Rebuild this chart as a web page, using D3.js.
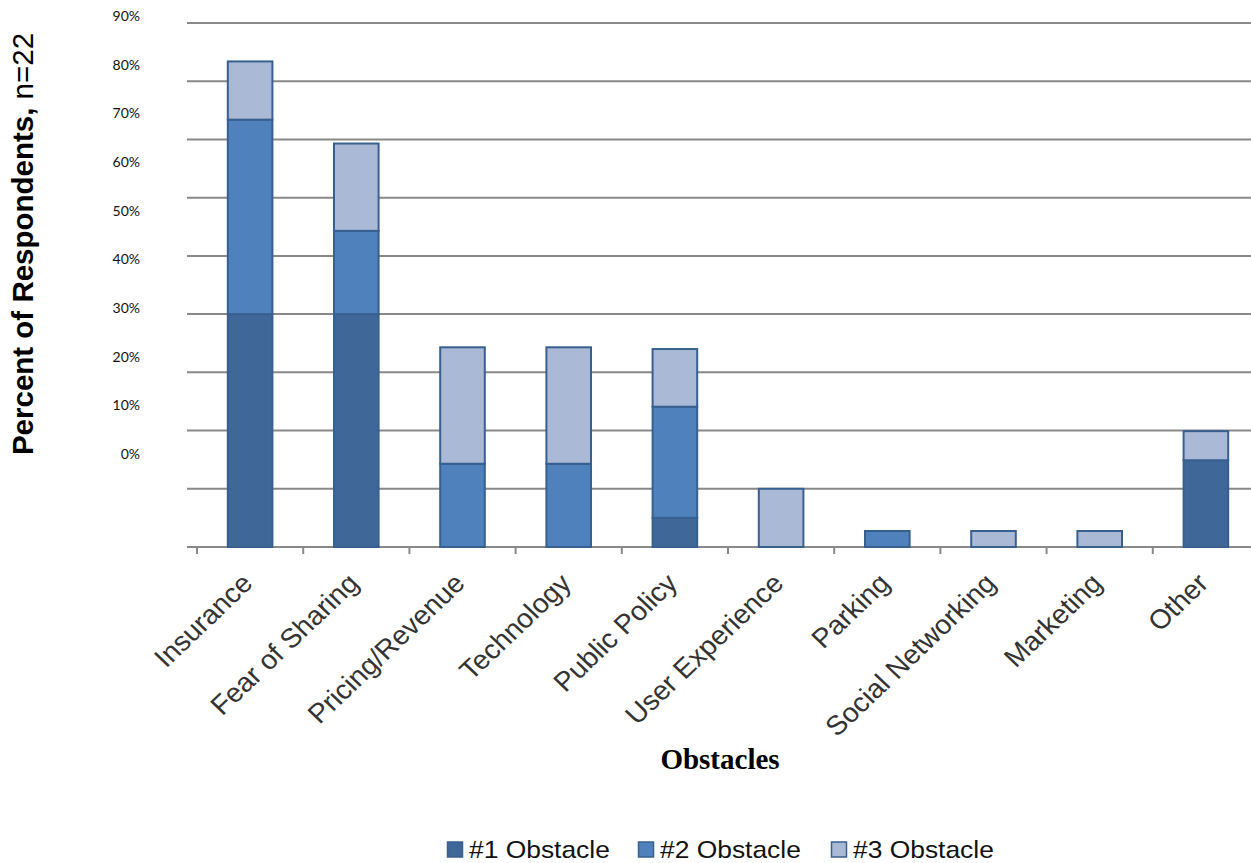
<!DOCTYPE html>
<html><head><meta charset="utf-8">
<script src="https://cdn.jsdelivr.net/npm/d3@7/dist/d3.min.js"></script>
<style>
body{margin:0;background:#fff;}
svg{display:block;}
</style></head>
<body>
<svg id="chart" width="1251" height="863"></svg>
<script>
const categories = ["Insurance","Fear of Sharing","Pricing/Revenue","Technology","Public Policy","User Experience","Parking","Social Networking","Marketing","Other"];
const obstacle1 = [40, 40, 0, 0, 5, 0, 0, 0, 0, 14.9];
const obstacle2 = [33.4, 14.3, 14.3, 14.3, 19.1, 0, 2.75, 0, 0, 0];
const obstacle3 = [10, 15, 20, 20, 9.9, 10, 0, 2.75, 2.75, 5];
const seriesNames = ["#1 Obstacle","#2 Obstacle","#3 Obstacle"];
const tickLabels = [0,10,20,30,40,50,60,70,80,90];
const colors = ["#3F6898","#4F81BD","#AAB9D6"];
const strokeColor = "#38608F";

const svg = d3.select("#chart");
const x = d3.scaleBand().domain(categories).range([197, 1259]).paddingInner(0).paddingOuter(0);
const y = d3.scaleLinear().domain([0, 90]).range([547, 23]);
const yLab = d3.scaleLinear().domain([0, 90]).range([454, 16]);

// gridlines
svg.append("g").selectAll("line").data(tickLabels).join("line")
  .attr("x1", 187).attr("x2", 1251)
  .attr("y1", d => y(d)).attr("y2", d => y(d))
  .attr("stroke", "#898989").attr("stroke-width", 2);

// category ticks
const bounds = categories.map(c => x(c)).concat([x.range()[1]]);
svg.append("g").selectAll("line").data(bounds).join("line")
  .attr("x1", d => d).attr("x2", d => d)
  .attr("y1", 547).attr("y2", 554)
  .attr("stroke", "#898989").attr("stroke-width", 2);

// y tick labels (drawn at their own positions as in reference)
svg.append("g").selectAll("text").data(tickLabels).join("text")
  .attr("x", 140).attr("y", d => yLab(d)).attr("dy", "0.35em")
  .attr("text-anchor", "end")
  .style("font-family", "Lato, 'Open Sans', sans-serif").style("font-size", "14px").attr("fill", "#111")
  .text(d => d + "%");

// stacked bars
const rows = categories.map((c, i) => ({cat: c, s0: obstacle1[i], s1: obstacle2[i], s2: obstacle3[i]}));
const stack = d3.stack().keys(["s0","s1","s2"])(rows);
const bw = x.bandwidth() * 0.42;
stack.forEach((layer, li) => {
  svg.append("g").selectAll("rect").data(layer.filter(d => d[1] - d[0] > 0)).join("rect")
    .attr("x", d => x(d.data.cat) + (x.bandwidth() - bw) / 2)
    .attr("width", bw)
    .attr("y", d => y(d[1]))
    .attr("height", d => y(d[0]) - y(d[1]))
    .attr("fill", colors[li])
    .attr("stroke", strokeColor).attr("stroke-width", 2);
});

// x labels
svg.append("g").selectAll("text").data(categories).join("text")
  .attr("transform", d => `translate(${x(d) + x.bandwidth()/2 + 4},585) scale(1.05,1) rotate(-45)`)
  .attr("text-anchor", "end")
  .style("font-family", "'Liberation Sans', Arial, sans-serif").style("font-size", "27px")
  .attr("fill", "#333")
  .text(d => d);

// x title
svg.append("text").attr("x", 720).attr("y", 769).attr("text-anchor", "middle")
  .style("font-family", "'Liberation Serif', 'Times New Roman', serif").style("font-size", "29px").style("font-weight", "bold")
  .text("Obstacles");

// y title
const yt = svg.append("text").attr("transform", "translate(33,244) rotate(-90)").attr("text-anchor", "middle")
  .style("font-family", "'Liberation Sans', Arial, sans-serif").style("font-size", "29.5px");
yt.append("tspan").style("font-weight", "bold").text("Percent of Respondents,");
yt.append("tspan").text(" n=22");

// legend
const legendX = [447, 638, 831];
const lg = svg.append("g").selectAll("g").data(seriesNames).join("g")
  .attr("transform", (d, i) => `translate(${legendX[i]},0)`);
lg.append("rect").attr("x", 0.5).attr("y", 842).attr("width", 15).attr("height", 15)
  .attr("fill", (d, i) => colors[i]).attr("stroke", strokeColor).attr("stroke-width", 1.5);
lg.append("text").attr("transform", "translate(22,858) scale(1.1,1)")
  .style("font-family", "'Liberation Sans', Arial, sans-serif").style("font-size", "24px").attr("fill", "#111")
  .text(d => d);
</script>
</body></html>
